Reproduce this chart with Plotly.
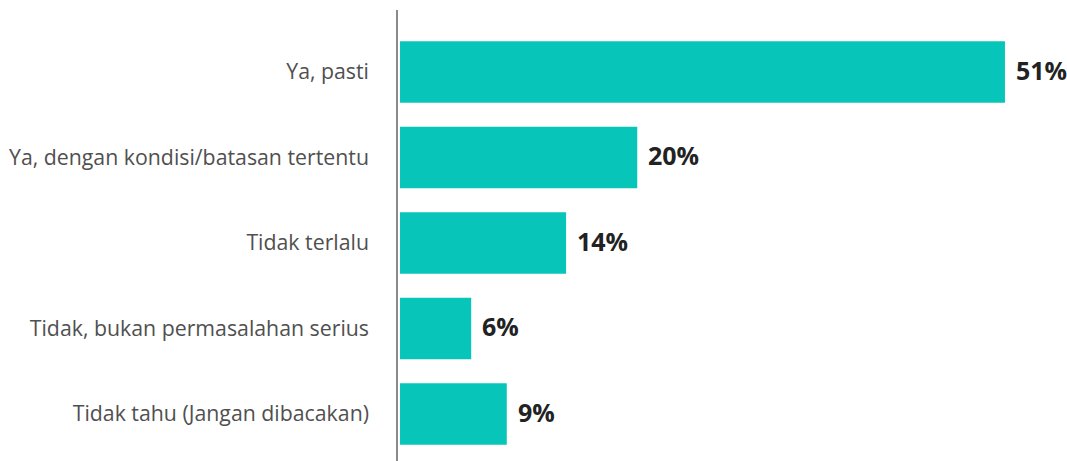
import plotly.graph_objects as go

categories = ["Ya, pasti", "Ya, dengan kondisi/batasan tertentu", "Tidak terlalu",
              "Tidak, bukan permasalahan serius", "Tidak tahu (Jangan dibacakan)"]
values = [51, 20, 14, 6, 9]
labels = ["51%", "20%", "14%", "6%", "9%"]

bar_color = "#07C5B9"
FONT = "Open Sans, Noto Sans, sans-serif"

fig = go.Figure()
fig.add_trace(go.Bar(
    x=values, y=categories, orientation="h",
    marker=dict(color=bar_color, line=dict(width=0)),
    width=0.72,
    hoverinfo="skip",
))

for c, v, t in zip(categories, values, labels):
    fig.add_annotation(x=v, y=c, text="<b>%s</b>" % t, showarrow=False,
                       xanchor="left", yanchor="middle", xshift=9, yshift=2,
                       font=dict(family=FONT, size=25, color="#222222"))

fig.update_layout(
    width=1067, height=461,
    margin=dict(l=398, r=0, t=10, b=0),
    paper_bgcolor="white", plot_bgcolor="white",
    showlegend=False,
    font=dict(family=FONT),
    xaxis=dict(range=[-0.17, 56.23], visible=False, showgrid=False, zeroline=False),
    yaxis=dict(
        categoryorder="array", categoryarray=categories,
        range=[4.55, -0.725],
        showgrid=False, zeroline=False,
        showline=True, linecolor="#8a8a8a", linewidth=1.5,
        ticks="", ticklabelstandoff=23,
        tickfont=dict(family=FONT, size=21.3, color="#505050"),
    ),
)

fig.write_html("out.html", config={"displayModeBar": False},
               post_script="document.body.style.margin='0';document.body.style.overflow='hidden';")
